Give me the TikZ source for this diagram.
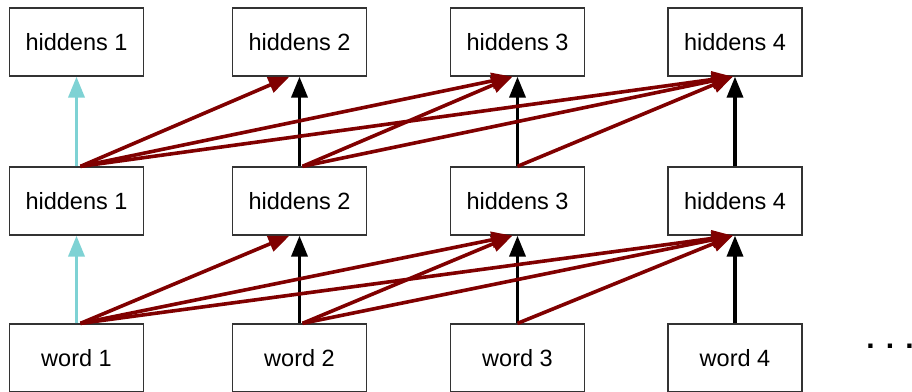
\documentclass[tikz,border=0pt]{standalone}
\usepackage{fontspec}
\setmainfont{Liberation Sans}
\usetikzlibrary{arrows.meta}
\definecolor{dred}{RGB}{128,0,0}
\definecolor{tealc}{RGB}{126,210,212}
\begin{document}
\begin{tikzpicture}[x=1pt,y=-1pt,
  box/.style={draw=black!80, line width=1.3pt, fill=white, minimum width=134pt, minimum height=68pt, inner sep=0pt, font=\fontsize{23.5}{28}\selectfont},
  arr/.style={line width=3.6pt, -{Triangle[length=21pt,width=16pt]}},
  blackarr/.style={arr, draw=black, fill=black},
  tealarr/.style={arr, draw=tealc, fill=tealc},
  redarr/.style={arr, draw=dred, fill=dred}]
\useasboundingbox (0,0) rectangle (912,391);
% nodes
\foreach \i/\x in {1/76.5,2/299.5,3/517.5,4/735}{
  \node[box] (t\i) at (\x,42) {hiddens \i};
  \node[box] (m\i) at (\x,201) {hiddens \i};
  \node[box] (w\i) at (\x,358) {word \i};
}
\node[anchor=base, font=\fontsize{30}{32}\selectfont\bfseries] (dots) at (890,348) {. . .};
% vertical arrows
\draw[tealarr] (w1.north) -- (m1.south);
\draw[tealarr] (m1.north) -- (t1.south);
\foreach \i in {2,3,4}{
  \draw[blackarr] (w\i.north) -- (m\i.south);
  \draw[blackarr] (m\i.north) -- (t\i.south);
}
% red skip arrows
\foreach \a/\sa in {1/4,2/3,3/0}{
  \foreach \b/\sb in {2/-10,3/-5,4/-2}{
    \ifnum\b>\a
      \draw[redarr] ([xshift=\sa pt]w\a.north) -- ([xshift=\sb pt]m\b.south);
      \draw[redarr] ([xshift=\sa pt]m\a.north) -- ([xshift=\sb pt]t\b.south);
    \fi
  }
}
\end{tikzpicture}
\end{document}
